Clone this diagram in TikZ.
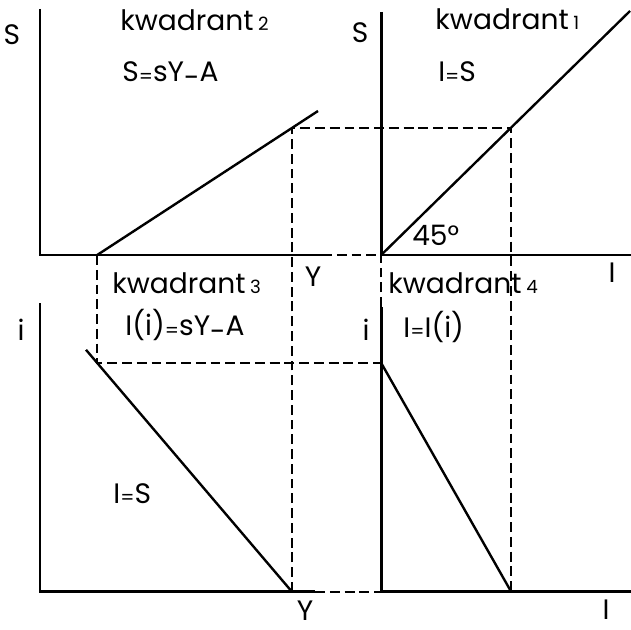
\documentclass[tikz,border=0pt]{standalone}
\usepackage{fontspec}
\setmainfont{Poppins}
\usepackage{graphicx}
\newcommand{\kwnum}[1]{\,{\fontsize{13}{15}\selectfont #1}}
\newcommand{\loweq}{\raisebox{-0.1ex}{\scalebox{0.7}{=}}}
\newcommand{\lowmin}{\raisebox{-0.35ex}{-}}

\begin{document}
\begin{tikzpicture}[x=1cm,y=1cm]
\tikzset{
  axis/.style={line width=2pt},
  curve/.style={line width=1.7pt},
  guide/.style={line width=1.4pt,dash pattern=on 7pt off 3.5pt},
  lbl/.style={inner sep=0pt,font=\fontsize{20}{24}\selectfont},
  lblw/.style={lbl,anchor=base west}
}
\useasboundingbox (0,0) rectangle (15.775,15.725);
% axes corners
\coordinate (o2) at (1.00,9.35);
\coordinate (s2top) at (1.00,15.50);
\coordinate (y2end) at (8.05,9.35);
\coordinate (o1) at (9.53,9.35);
\coordinate (s1top) at (9.53,15.43);
\coordinate (i1end) at (15.78,9.35);
\coordinate (o3) at (1.00,0.93);
\coordinate (i3top) at (1.00,8.15);
\coordinate (y3end) at (7.88,0.93);
\coordinate (o4) at (9.53,0.93);
\coordinate (i4top) at (9.53,8.05);
\coordinate (i4end) at (15.78,0.93);
% line ends
\coordinate (q1end) at (15.75,15.45);
\coordinate (q2start) at (2.43,9.35);
\coordinate (q2end) at (7.95,12.95);
\coordinate (q3start) at (2.15,6.98);
\coordinate (q3end) at (7.30,0.93);
\coordinate (q4start) at (9.53,6.65);
\coordinate (q4end) at (12.78,0.93);
\coordinate (g_sy) at (7.30,12.53);
\coordinate (g_si) at (12.78,12.53);
\coordinate (g_a) at (2.43,6.65);
\draw[axis] (s2top) -- (o2) -- (y2end);
\draw[axis] (s1top) -- (o1) -- (i1end);
\draw[axis] (i3top) -- (o3) -- (y3end);
\draw[axis] (i4top) -- (o4) -- (i4end);
\draw[curve] (o1) -- (q1end);
\draw[curve] (q2start) -- (q2end);
\draw[curve] (q3start) -- (q3end);
\draw[curve] (q4start) -- (q4end);
\draw[guide] (y2end) -- (o1);
\draw[guide] (y3end) -- (o4);
\draw[guide] (i4top) -- (o1);
\draw[guide] (q3end) -- (g_sy) -- (g_si) -- (q4end);
\draw[guide] (q2start) -- (g_a) -- (q4start);
\node[lbl] (n_S2) at (0.30,14.85) {S};
\node[lblw] (n_k2) at (3.00,14.95) {kwadrant\kwnum{2}};
\node[lblw] (n_f2) at (3.05,13.68) {S\loweq sY\lowmin A};
\node[lbl] (n_S1) at (9.00,14.90) {S};
\node[lblw] (n_k1) at (10.88,14.98) {kwadrant\kwnum{1}};
\node[lblw] (n_f1) at (10.95,13.68) {I\loweq S};
\node[lblw] (n_deg) at (10.30,9.60) {45°};
\node[lbl] (n_Y2) at (7.83,8.80) {Y};
\node[lbl] (n_I1) at (15.30,8.90) {I};
\node[lblw] (n_k3) at (2.80,8.40) {kwadrant\kwnum{3}};
\node[lblw] (n_f3) at (3.13,7.33) {I(i)\loweq sY\lowmin A};
\node[lbl] (n_i3) at (0.53,7.48) {i};
\node[lblw] (n_k4) at (9.70,8.38) {kwadrant\kwnum{4}};
\node[lbl] (n_i4) at (9.15,7.48) {i};
\node[lblw] (n_f4) at (10.08,7.30) {I\loweq I(i)};
\node[lblw] (n_f5) at (2.83,3.15) {I\loweq S};
\node[lbl] (n_Y3) at (7.63,0.47) {Y};
\node[lbl] (n_I4) at (15.15,0.49) {I};
\end{tikzpicture}
\end{document}
